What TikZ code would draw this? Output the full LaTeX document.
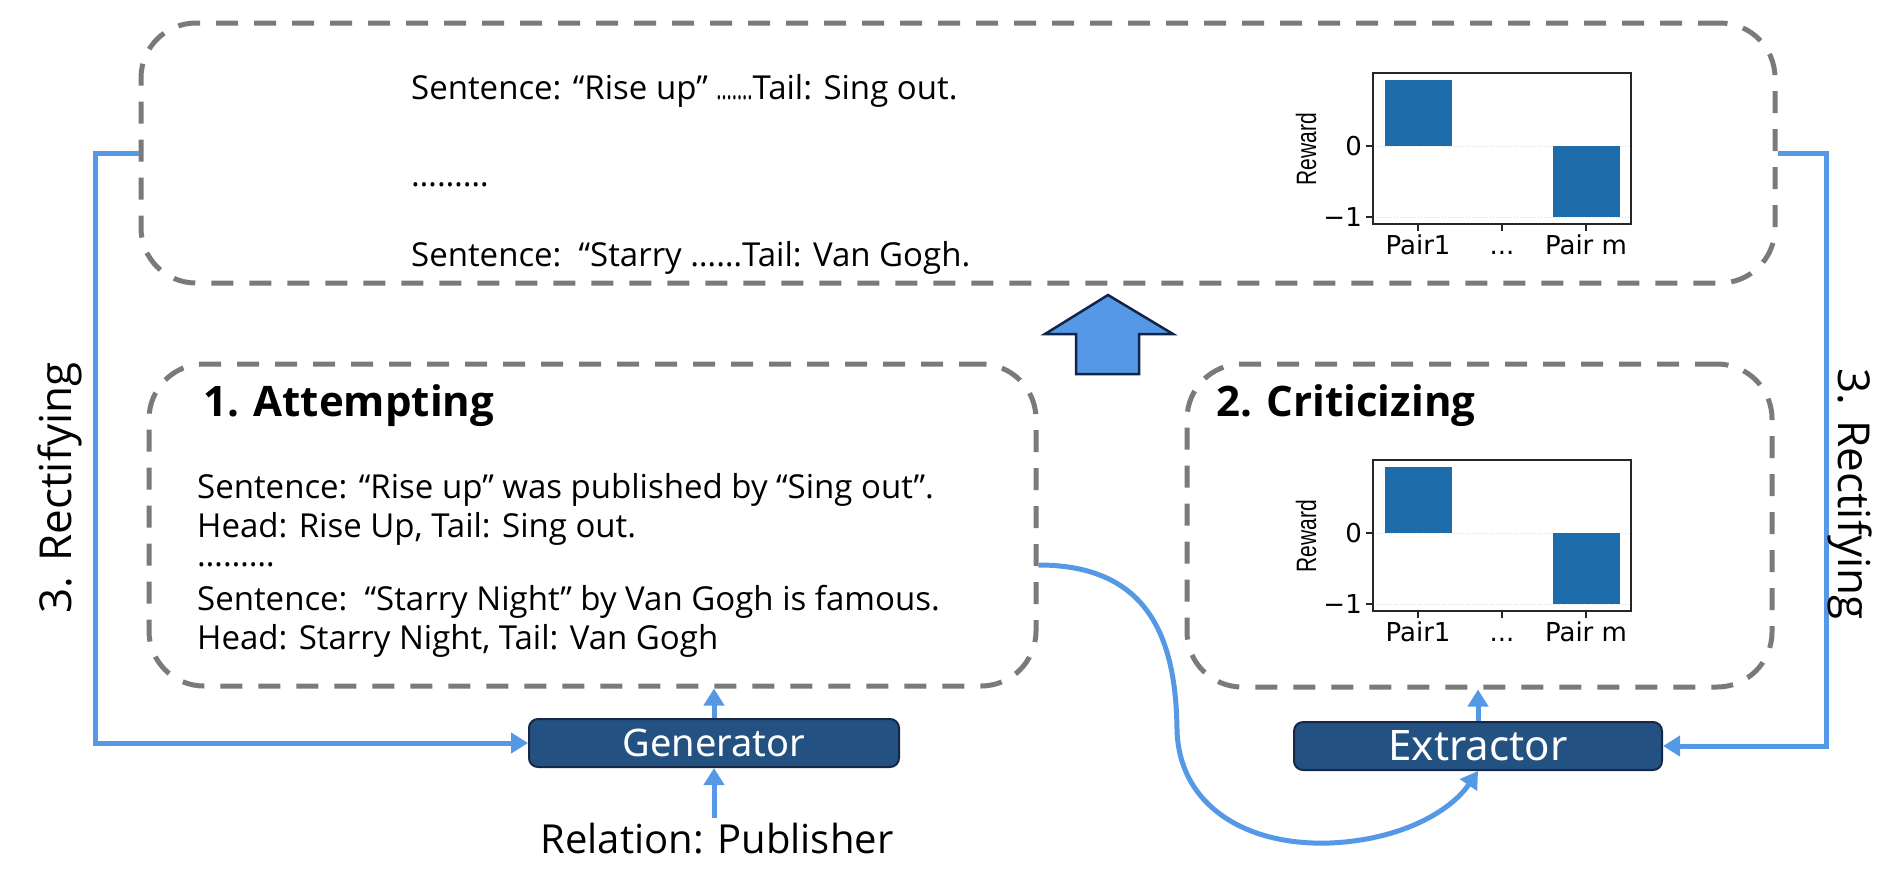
\documentclass[tikz,border=0pt]{standalone}
\usepackage{fontspec}
\setmainfont{Open Sans}
\newfontfamily\plotfont{DejaVu Sans}
\newfontfamily\axisfont{Liberation Sans}
\newfontfamily\modelfont{Noto Sans}
\usetikzlibrary{arrows.meta}

\definecolor{linkblue}{RGB}{84,152,230}
\definecolor{boxgray}{RGB}{122,122,122}
\definecolor{barblue}{RGB}{31,108,171}
\definecolor{modelblue}{RGB}{35,82,130}
\definecolor{modeledge}{RGB}{22,40,70}
\definecolor{arrowedge}{RGB}{18,36,72}

\begin{document}
\begin{tikzpicture}[x=1pt,y=-1pt]
  \tikzset{sketch box/.style={draw=boxgray,line width=5pt,dash pattern=on 22pt off 16pt,rounded corners=55pt,inner sep=0pt},
    model box/.style={draw=modeledge,fill=modelblue,line width=2pt,rounded corners=9pt,minimum width=370pt,minimum height=48pt,
      text=white,font=\modelfont\fontsize{38}{42}\selectfont},
    sketch text/.style={anchor=west,inner sep=0pt,font=\fontsize{33}{39}\selectfont},
    stage title/.style={anchor=west,inner sep=0pt,font=\bfseries\fontsize{42}{44}\selectfont},
    link/.style={draw=linkblue,line width=5pt,-{Triangle[width=20pt,length=17pt]}},
    tick label/.style={font=\plotfont\fontsize{26}{28}\selectfont,inner sep=0pt}}
  \useasboundingbox (0,0) rectangle (1902,876);

  % dashed boxes
  \node[sketch box,minimum width=1634pt,minimum height=260pt] (top) at (958,153) {};
  \node[sketch box,minimum width=887pt,minimum height=322pt] (attempt) at (592.5,525) {};
  \node[sketch box,minimum width=585pt,minimum height=323pt] (critic) at (1479.5,525.5) {};

  % text in the boxes
  \node[sketch text] (top one) at (411,91) {Sentence: “Rise up” \scalebox{0.6}[1]{…….}Tail: Sing out.};
  \node[sketch text] (top dots) at (411,185) {………};
  \node[sketch text] (top two) at (411,258) {Sentence:\ \ “Starry ……Tail: Van Gogh.};

  \node[stage title] (attempt title) at (203,406) {1. Attempting};
  \node[sketch text,anchor=north west,align=left] (attempt lines) at (197,473) {Sentence: “Rise up” was published by “Sing out”.\\
    Head: Rise Up, Tail: Sing out.\\[-10pt]
    ………\\[5pt]
    Sentence:\ \ “Starry Night” by Van Gogh is famous.\\
    Head: Starry Night, Tail: Van Gogh};

  \node[stage title] (critic title) at (1216,406) {2. Criticizing};

  % reward charts
  \foreach \cy/\cn in {146/top, 533/critic} {
    \draw[black!15,line width=1pt,dotted] (1373,\cy) -- (1631,\cy) (1373,\cy+71) -- (1631,\cy+71);
    \fill[barblue] (1384.5,\cy-66) rectangle (1451.5,\cy);
    \fill[barblue] (1552.5,\cy) rectangle (1619.5,\cy+71);
    \draw[black!85,line width=1.8pt] (1373,\cy-73) rectangle (1631,\cy+78);
    \draw[black!85,line width=1.5pt] (1373,\cy) -- ++(-7,0) (1373,\cy+71) -- ++(-7,0)
      (1418,\cy+78) -- ++(0,7) (1502,\cy+78) -- ++(0,7) (1586,\cy+78) -- ++(0,7);
    \node[tick label,anchor=east] (\cn zero) at (1362,\cy) {0};
    \node[tick label,anchor=east] (\cn minus) at (1362,\cy+71) {−1};
    \node[tick label,anchor=base] (\cn pair one) at (1418,\cy+108) {Pair1};
    \node[tick label,anchor=base] (\cn pair dots) at (1502,\cy+108) {...};
    \node[tick label,anchor=base] (\cn pair m) at (1586,\cy+108) {Pair m};
    \node[rotate=90,font=\axisfont\fontsize{28}{30}\selectfont] (\cn reward) at (1306,\cy+3) {\scalebox{0.75}[1]{Reward}};
  }

  % big arrow
  \draw[fill=linkblue,draw=arrowedge,line width=2.5pt,line join=miter]
    (1076,374) -- (1076,334) -- (1045,334) -- (1108,295) -- (1173,334) -- (1139,334) -- (1139,374) -- cycle;

  % models
  \node[model box] (gen) at (714,743) {Generator};
  \node[model box,minimum width=368pt,font=\modelfont\fontsize{42}{44}\selectfont] (ext) at (1478,746) {Extractor};
  \node[font=\fontsize{40}{44}\selectfont] (rel) at (717,839) {Relation: Publisher};

  % connectors
  \draw[link] (gen.north) -- (gen.north |- attempt.south);
  \draw[link] ([yshift=2pt]gen.south |- rel.north) -- (gen.south);
  \draw[link] (ext.north) -- (ext.north |- critic.south);
  \draw[link] ([yshift=-40pt]attempt.east) .. controls (1150,565) and (1176,640) .. (1177,730)
    .. controls (1179,805) and (1245,846) .. (1330,843) .. controls (1400,840) and (1450,812) .. (ext.south);
  \draw[link] (top.west) -- ++(-43,0) |- (gen.west);
  \draw[link] (top.east) -- ++(49,0) |- (ext.east);

  \node[rotate=90,font=\fontsize{44}{48}\selectfont] (rect left) at (60,488) {3. Rectifying};
  \node[rotate=-90,font=\fontsize{44}{48}\selectfont] (rect right) at (1850,494) {3. Rectifying};
\end{tikzpicture}
\end{document}
